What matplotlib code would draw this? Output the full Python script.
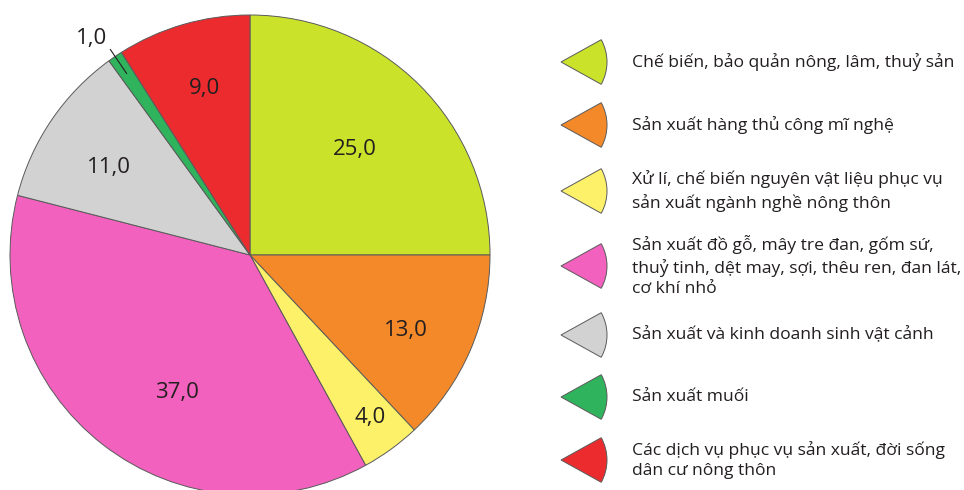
import numpy as np
import matplotlib
matplotlib.use("Agg")
import matplotlib.pyplot as plt
from matplotlib.patches import Wedge

plt.rcParams['font.family'] = ['Open Sans', 'DejaVu Sans']

categories = [
    "Chế biến, bảo quản nông, lâm, thuỷ sản",
    "Sản xuất hàng thủ công mĩ nghệ",
    "Xử lí, chế biến nguyên vật liệu phục vụ\nsản xuất ngành nghề nông thôn",
    "Sản xuất đồ gỗ, mây tre đan, gốm sứ,\nthuỷ tinh, dệt may, sợi, thêu ren, đan lát,\ncơ khí nhỏ",
    "Sản xuất và kinh doanh sinh vật cảnh",
    "Sản xuất muối",
    "Các dịch vụ phục vụ sản xuất, đời sống\ndân cư nông thôn",
]
values = [25.0, 13.0, 4.0, 37.0, 11.0, 1.0, 9.0]
colors = ['#cbe22b', '#f4892a', '#fdf16a', '#f261bd', '#d2d2d2', '#2fb35c', '#ec2b2e']

# label placement: radial fraction and small angle tweak per slice
label_r = [0.62, 0.72, 0.84, 0.65, 0.69, 1.12, 0.72]
label_da = [0, -2.5, 0.5, 10, 2.5, 2, -1]

ink = '#231f20'
W, H = 964, 490
fig = plt.figure(figsize=(W / 100, H / 100), dpi=100)
ax = fig.add_axes([0, 0, 1, 1])

cx, cy, R = 250, 235, 240
wedges, _ = ax.pie(values, colors=colors, startangle=90, counterclock=False,
                   center=(cx, cy), radius=R,
                   wedgeprops=dict(edgecolor='#5a5a5a', linewidth=0.7))

for w, v, fr, da in zip(wedges, values, label_r, label_da):
    mid = np.deg2rad((w.theta1 + w.theta2) / 2 + da)
    x = cx + fr * R * np.cos(mid)
    y = cy + fr * R * np.sin(mid)
    ax.text(x, y, f"{v:.1f}".replace('.', ','), ha='center', va='center',
            fontsize=16, color=ink)
    if v < 2:
        m = np.deg2rad((w.theta1 + w.theta2) / 2)
        ax.plot([cx + 0.915 * R * np.cos(m), cx + 1.035 * R * np.cos(m)],
                [cy + 0.915 * R * np.sin(m), cy + 1.035 * R * np.sin(m)],
                color=ink, lw=0.8)

# legend: small wedge icons + text
leg_y = [62, 125, 191, 266, 335, 397, 460]
for lab, c, yy in zip(categories, colors, leg_y):
    y = H - yy
    ax.add_patch(Wedge((561, y), 46, -29, 29, facecolor=c,
                       edgecolor='#5a5a5a', linewidth=0.7))
    ax.text(632, y, lab, ha='left', va='center', fontsize=12.6, color=ink,
            linespacing=1.37)

ax.set_xlim(0, W)
ax.set_ylim(0, H)
ax.set_aspect('equal')
ax.axis('off')

fig.savefig('out.png', dpi=100)
